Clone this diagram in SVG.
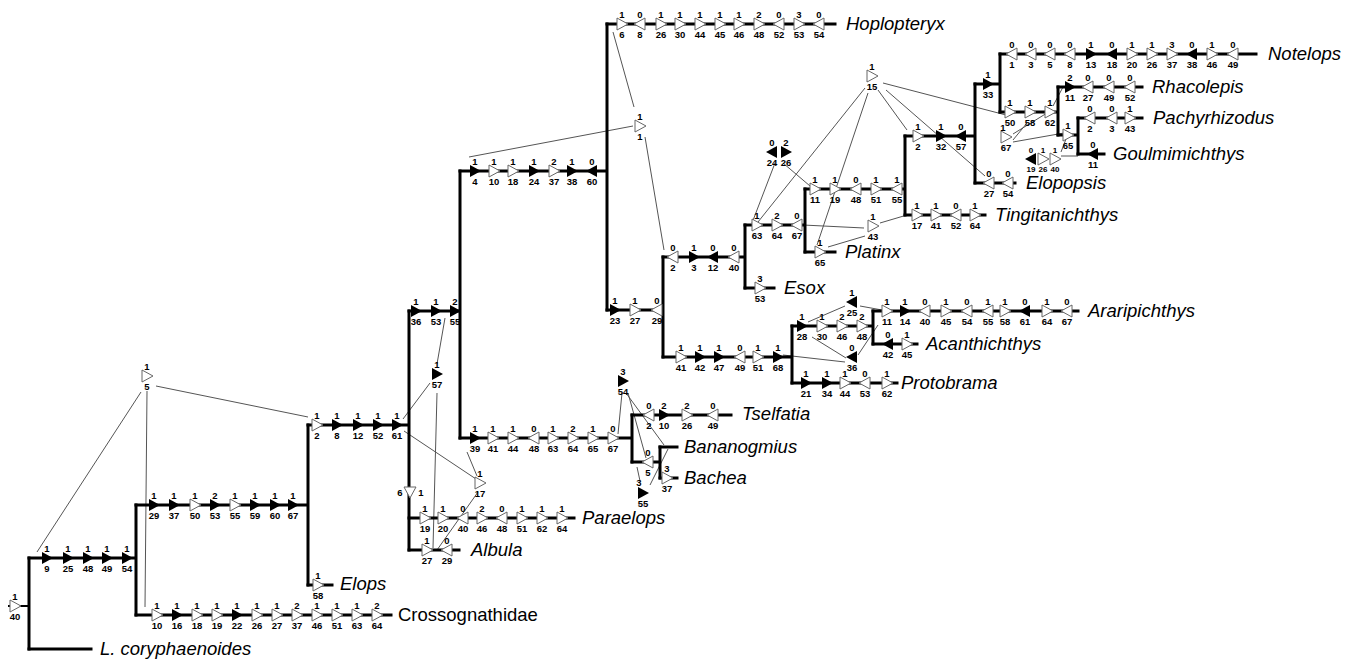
<svg xmlns="http://www.w3.org/2000/svg" xmlns:xlink="http://www.w3.org/1999/xlink" width="1360" height="662" viewBox="0 0 1360 662">
<style>
.br{stroke:#000;stroke-width:3;fill:none;stroke-linecap:square}
.cn line{stroke:#555;stroke-width:1}
.k text{font-family:"Liberation Sans",Arial,sans-serif;font-weight:bold;font-size:9.5px;text-anchor:middle;fill:#000}
.k.sm text{font-size:8px}
.tx{font-family:"Liberation Sans",Arial,sans-serif;font-style:italic;font-size:18.5px;fill:#000}
.up{font-family:"Liberation Sans",Arial,sans-serif;font-size:18.5px;fill:#000}
</style>
<defs>
<path id="rO" d="M-5,-6 L6,0 L-5,6 Z" fill="#fff" stroke="#666" stroke-width="1"/>
<path id="rF" d="M-5,-6 L6,0 L-5,6 Z" fill="#000"/>
<path id="lO" d="M5,-6 L-6,0 L5,6 Z" fill="#fff" stroke="#666" stroke-width="1"/>
<path id="lF" d="M5,-6 L-6,0 L5,6 Z" fill="#000"/>
<path id="dO" d="M-6,-5 L6,-5 L0,6 Z" fill="#fff" stroke="#666" stroke-width="1"/>
</defs>
<rect width="1360" height="662" fill="#fff"/>

<g id="connectors" class="cn">
<line x1="141" y1="392" x2="37" y2="552"/>
<line x1="147" y1="391" x2="145" y2="607"/>
<line x1="156" y1="386" x2="308" y2="417"/>
<line x1="445" y1="318" x2="437" y2="364"/>
<line x1="430" y1="383" x2="403" y2="419"/>
<line x1="437" y1="393" x2="433" y2="548"/>
<line x1="404" y1="431" x2="476" y2="479"/>
<line x1="467" y1="452" x2="477" y2="476"/>
<line x1="478" y1="492" x2="437" y2="550"/>
<line x1="633" y1="126" x2="469" y2="157"/>
<line x1="634" y1="107" x2="613" y2="32"/>
<line x1="645" y1="137" x2="664" y2="250"/>
<line x1="622" y1="393" x2="618" y2="434"/>
<line x1="626" y1="393" x2="664" y2="445"/>
<line x1="628" y1="393" x2="646" y2="458"/>
<line x1="637" y1="467" x2="640" y2="481"/>
<line x1="650" y1="485" x2="668" y2="449"/>
<line x1="775" y1="163" x2="752" y2="223"/>
<line x1="783" y1="163" x2="810" y2="186"/>
<line x1="865" y1="88" x2="758" y2="222"/>
<line x1="868" y1="93" x2="817" y2="245"/>
<line x1="878" y1="90" x2="907" y2="130"/>
<line x1="886" y1="90" x2="985" y2="176"/>
<line x1="883" y1="83" x2="1006" y2="115"/>
<line x1="864" y1="228" x2="803" y2="225"/>
<line x1="865" y1="236" x2="828" y2="247"/>
<line x1="880" y1="223" x2="907" y2="215"/>
<line x1="1013" y1="140" x2="1027" y2="123"/>
<line x1="1013" y1="134" x2="1047" y2="113"/>
<line x1="1013" y1="142" x2="1064" y2="133"/>
<line x1="1053" y1="106" x2="1063" y2="87"/>
<line x1="1061" y1="152" x2="1066" y2="139"/>
<line x1="1061" y1="156" x2="1078" y2="156"/>
<line x1="845" y1="306" x2="808" y2="322"/>
<line x1="860" y1="306" x2="882" y2="310"/>
<line x1="812" y1="337" x2="846" y2="358"/>
<line x1="783" y1="355" x2="845" y2="362"/>
<line x1="858" y1="355" x2="878" y2="325"/>
</g>

<g id="root">
<path class="br" style="stroke-width:2" d="M9,606 H29"/>
<path class="br" d="M29,558 V649"/>
<g class="k" transform="translate(15,606)"><use xlink:href="#rO"/><text y="-6">1</text><text y="14">40</text></g>
</g>

<g id="L-coryphaenoides">
<path class="br" d="M29,649 H91"/>
<text class="tx" x="100" y="655">L. coryphaenoides</text>
</g>

<g id="clade-A">
<path class="br" d="M29,558 H136 M136,505 V615"/>
<g class="k" transform="translate(47,558)"><use xlink:href="#rF"/><text y="-6">1</text><text y="14">9</text></g>
<g class="k" transform="translate(68,558)"><use xlink:href="#rF"/><text y="-6">1</text><text y="14">25</text></g>
<g class="k" transform="translate(88,558)"><use xlink:href="#rF"/><text y="-6">1</text><text y="14">48</text></g>
<g class="k" transform="translate(107,558)"><use xlink:href="#rF"/><text y="-6">1</text><text y="14">49</text></g>
<g class="k" transform="translate(127,558)"><use xlink:href="#rF"/><text y="-6">1</text><text y="14">54</text></g>
<g class="k" transform="translate(147,376)"><use xlink:href="#rO"/><text y="-6">1</text><text y="14">5</text></g>
</g>

<g id="clade-B">
<path class="br" d="M136,505 H308 M308,425 V585"/>
<g class="k" transform="translate(154,505)"><use xlink:href="#rF"/><text y="-6">1</text><text y="14">29</text></g>
<g class="k" transform="translate(174,505)"><use xlink:href="#rF"/><text y="-6">1</text><text y="14">37</text></g>
<g class="k" transform="translate(195,505)"><use xlink:href="#rO"/><text y="-6">1</text><text y="14">50</text></g>
<g class="k" transform="translate(215,505)"><use xlink:href="#rF"/><text y="-6">2</text><text y="14">53</text></g>
<g class="k" transform="translate(235,505)"><use xlink:href="#rO"/><text y="-6">1</text><text y="14">55</text></g>
<g class="k" transform="translate(255,505)"><use xlink:href="#rF"/><text y="-6">1</text><text y="14">59</text></g>
<g class="k" transform="translate(275,505)"><use xlink:href="#rF"/><text y="-6">1</text><text y="14">60</text></g>
<g class="k" transform="translate(293,505)"><use xlink:href="#rF"/><text y="-6">1</text><text y="14">67</text></g>
</g>

<g id="Crossognathidae">
<path class="br" d="M136,615 H391"/>
<g class="k" transform="translate(157,615)"><use xlink:href="#rO"/><text y="-6">1</text><text y="14">10</text></g>
<g class="k" transform="translate(177,615)"><use xlink:href="#rF"/><text y="-6">1</text><text y="14">16</text></g>
<g class="k" transform="translate(197,615)"><use xlink:href="#rO"/><text y="-6">1</text><text y="14">18</text></g>
<g class="k" transform="translate(217,615)"><use xlink:href="#rO"/><text y="-6">1</text><text y="14">19</text></g>
<g class="k" transform="translate(237,615)"><use xlink:href="#rF"/><text y="-6">1</text><text y="14">22</text></g>
<g class="k" transform="translate(257,615)"><use xlink:href="#rO"/><text y="-6">1</text><text y="14">26</text></g>
<g class="k" transform="translate(277,615)"><use xlink:href="#rO"/><text y="-6">1</text><text y="14">27</text></g>
<g class="k" transform="translate(297,615)"><use xlink:href="#rO"/><text y="-6">2</text><text y="14">37</text></g>
<g class="k" transform="translate(317,615)"><use xlink:href="#rO"/><text y="-6">1</text><text y="14">46</text></g>
<g class="k" transform="translate(337,615)"><use xlink:href="#rO"/><text y="-6">1</text><text y="14">51</text></g>
<g class="k" transform="translate(357,615)"><use xlink:href="#rO"/><text y="-6">1</text><text y="14">63</text></g>
<g class="k" transform="translate(377,615)"><use xlink:href="#rO"/><text y="-6">2</text><text y="14">64</text></g>
<text class="up" x="398" y="621">Crossognathidae</text>
</g>

<g id="Elops">
<path class="br" d="M308,585 H332"/>
<g class="k" transform="translate(318,585)"><use xlink:href="#rO"/><text y="-6">1</text><text y="14">58</text></g>
<text class="tx" x="340" y="590">Elops</text>
</g>

<g id="clade-C">
<path class="br" d="M308,425 H409 M409,311 V550"/>
<g class="k" transform="translate(317,425)"><use xlink:href="#rO"/><text y="-6">1</text><text y="14">2</text></g>
<g class="k" transform="translate(337,425)"><use xlink:href="#rF"/><text y="-6">1</text><text y="14">8</text></g>
<g class="k" transform="translate(358,425)"><use xlink:href="#rF"/><text y="-6">1</text><text y="14">12</text></g>
<g class="k" transform="translate(378,425)"><use xlink:href="#rF"/><text y="-6">1</text><text y="14">52</text></g>
<g class="k" transform="translate(397,425)"><use xlink:href="#rF"/><text y="-6">1</text><text y="14">61</text></g>
<g class="k" transform="translate(410,492)"><use xlink:href="#dO"/><text x="-10" y="3.5">6</text><text x="11" y="3.5">1</text></g>
<g class="k" transform="translate(437,374)"><use xlink:href="#rF"/><text y="-6">1</text><text y="14">57</text></g>
<g class="k" transform="translate(480,483)"><use xlink:href="#rO"/><text y="-6">1</text><text y="14">17</text></g>
</g>

<g id="Paraelops">
<path class="br" d="M409,518 H574"/>
<g class="k" transform="translate(425,518)"><use xlink:href="#rO"/><text y="-6">1</text><text y="14">19</text></g>
<g class="k" transform="translate(443,518)"><use xlink:href="#rO"/><text y="-6">1</text><text y="14">20</text></g>
<g class="k" transform="translate(463,518)"><use xlink:href="#lO"/><text y="-6">0</text><text y="14">40</text></g>
<g class="k" transform="translate(482,518)"><use xlink:href="#rO"/><text y="-6">2</text><text y="14">46</text></g>
<g class="k" transform="translate(502,518)"><use xlink:href="#lO"/><text y="-6">0</text><text y="14">48</text></g>
<g class="k" transform="translate(522,518)"><use xlink:href="#rO"/><text y="-6">1</text><text y="14">51</text></g>
<g class="k" transform="translate(542,518)"><use xlink:href="#rO"/><text y="-6">1</text><text y="14">62</text></g>
<g class="k" transform="translate(562,518)"><use xlink:href="#rO"/><text y="-6">1</text><text y="14">64</text></g>
<text class="tx" x="582" y="524">Paraelops</text>
</g>

<g id="Albula">
<path class="br" d="M409,550 H459"/>
<g class="k" transform="translate(427,550)"><use xlink:href="#rO"/><text y="-6">1</text><text y="14">27</text></g>
<g class="k" transform="translate(447,550)"><use xlink:href="#lO"/><text y="-6">0</text><text y="14">29</text></g>
<text class="tx" x="471" y="556">Albula</text>
</g>

<g id="clade-D">
<path class="br" d="M409,311 H460 M460,171 V438"/>
<g class="k" transform="translate(416,311)"><use xlink:href="#rF"/><text y="-6">1</text><text y="14">36</text></g>
<g class="k" transform="translate(436,311)"><use xlink:href="#rF"/><text y="-6">1</text><text y="14">53</text></g>
<g class="k" transform="translate(455,311)"><use xlink:href="#rF"/><text y="-6">2</text><text y="14">55</text></g>
</g>

<g id="clade-E">
<path class="br" d="M460,171 H607 M607,24 V310"/>
<g class="k" transform="translate(475,171)"><use xlink:href="#rF"/><text y="-6">1</text><text y="14">4</text></g>
<g class="k" transform="translate(494,171)"><use xlink:href="#rO"/><text y="-6">1</text><text y="14">10</text></g>
<g class="k" transform="translate(513,171)"><use xlink:href="#rO"/><text y="-6">1</text><text y="14">18</text></g>
<g class="k" transform="translate(534,171)"><use xlink:href="#rF"/><text y="-6">1</text><text y="14">24</text></g>
<g class="k" transform="translate(554,171)"><use xlink:href="#rO"/><text y="-6">2</text><text y="14">37</text></g>
<g class="k" transform="translate(572,171)"><use xlink:href="#rF"/><text y="-6">1</text><text y="14">38</text></g>
<g class="k" transform="translate(592,171)"><use xlink:href="#lF"/><text y="-6">0</text><text y="14">60</text></g>
<g class="k" transform="translate(640,126)"><use xlink:href="#rO"/><text y="-6">1</text><text y="14">1</text></g>
</g>

<g id="Hoplopteryx">
<path class="br" d="M607,24 H835"/>
<g class="k" transform="translate(622,24)"><use xlink:href="#rO"/><text y="-6">1</text><text y="14">6</text></g>
<g class="k" transform="translate(640,24)"><use xlink:href="#lO"/><text y="-6">0</text><text y="14">8</text></g>
<g class="k" transform="translate(661,24)"><use xlink:href="#rO"/><text y="-6">1</text><text y="14">26</text></g>
<g class="k" transform="translate(680,24)"><use xlink:href="#rO"/><text y="-6">1</text><text y="14">30</text></g>
<g class="k" transform="translate(700,24)"><use xlink:href="#rO"/><text y="-6">1</text><text y="14">44</text></g>
<g class="k" transform="translate(720,24)"><use xlink:href="#rO"/><text y="-6">1</text><text y="14">45</text></g>
<g class="k" transform="translate(739,24)"><use xlink:href="#rO"/><text y="-6">1</text><text y="14">46</text></g>
<g class="k" transform="translate(759,24)"><use xlink:href="#rO"/><text y="-6">2</text><text y="14">48</text></g>
<g class="k" transform="translate(779,24)"><use xlink:href="#lO"/><text y="-6">0</text><text y="14">52</text></g>
<g class="k" transform="translate(799,24)"><use xlink:href="#rO"/><text y="-6">3</text><text y="14">53</text></g>
<g class="k" transform="translate(819,24)"><use xlink:href="#lO"/><text y="-6">0</text><text y="14">54</text></g>
<text class="tx" x="846" y="30">Hoplopteryx</text>
</g>

<g id="clade-F">
<path class="br" d="M460,438 H632 M632,415 V462"/>
<g class="k" transform="translate(475,438)"><use xlink:href="#rF"/><text y="-6">1</text><text y="14">39</text></g>
<g class="k" transform="translate(493,438)"><use xlink:href="#rO"/><text y="-6">1</text><text y="14">41</text></g>
<g class="k" transform="translate(513,438)"><use xlink:href="#rO"/><text y="-6">1</text><text y="14">44</text></g>
<g class="k" transform="translate(534,438)"><use xlink:href="#lO"/><text y="-6">0</text><text y="14">48</text></g>
<g class="k" transform="translate(553,438)"><use xlink:href="#rO"/><text y="-6">1</text><text y="14">63</text></g>
<g class="k" transform="translate(573,438)"><use xlink:href="#rO"/><text y="-6">2</text><text y="14">64</text></g>
<g class="k" transform="translate(593,438)"><use xlink:href="#rO"/><text y="-6">1</text><text y="14">65</text></g>
<g class="k" transform="translate(613,438)"><use xlink:href="#rO"/><text y="-6">0</text><text y="14">67</text></g>
<g class="k" transform="translate(623,381)"><use xlink:href="#rF"/><text y="-6">3</text><text y="14">54</text></g>
</g>

<g id="Tselfatia">
<path class="br" d="M632,415 H731"/>
<g class="k" transform="translate(649,415)"><use xlink:href="#lO"/><text y="-6">0</text><text y="14">2</text></g>
<g class="k" transform="translate(664,415)"><use xlink:href="#rF"/><text y="-6">2</text><text y="14">10</text></g>
<g class="k" transform="translate(687,415)"><use xlink:href="#rO"/><text y="-6">2</text><text y="14">26</text></g>
<g class="k" transform="translate(713,415)"><use xlink:href="#lO"/><text y="-6">0</text><text y="14">49</text></g>
<text class="tx" x="742" y="420">Tselfatia</text>
</g>

<g id="clade-Q">
<path class="br" d="M632,462 H660 M660,447 V478"/>
<g class="k" transform="translate(648,462)"><use xlink:href="#lO"/><text y="-6">0</text><text y="14">5</text></g>
<g class="k" transform="translate(643,493)"><use xlink:href="#rF"/><text x="-4" y="-7">3</text><text y="14">55</text></g>
</g>

<g id="Bananogmius">
<path class="br" d="M660,447 H677"/>
<text class="tx" x="684" y="453">Bananogmius</text>
</g>

<g id="Bachea">
<path class="br" d="M660,478 H677"/>
<g class="k" transform="translate(667,478)"><use xlink:href="#rO"/><text y="-6">3</text><text y="14">37</text></g>
<text class="tx" x="684" y="484">Bachea</text>
</g>

<g id="clade-G">
<path class="br" d="M607,310 H663 M663,257 V357"/>
<g class="k" transform="translate(615,310)"><use xlink:href="#rF"/><text y="-6">1</text><text y="14">23</text></g>
<g class="k" transform="translate(635,310)"><use xlink:href="#rO"/><text y="-6">1</text><text y="14">27</text></g>
<g class="k" transform="translate(657,310)"><use xlink:href="#lO"/><text y="-6">0</text><text y="14">29</text></g>
</g>

<g id="clade-H">
<path class="br" d="M663,257 H745 M745,225 V288"/>
<g class="k" transform="translate(673,257)"><use xlink:href="#lO"/><text y="-6">0</text><text y="14">2</text></g>
<g class="k" transform="translate(694,257)"><use xlink:href="#rF"/><text y="-6">1</text><text y="14">3</text></g>
<g class="k" transform="translate(713,257)"><use xlink:href="#lF"/><text y="-6">0</text><text y="14">12</text></g>
<g class="k" transform="translate(734,257)"><use xlink:href="#lO"/><text y="-6">0</text><text y="14">40</text></g>
</g>

<g id="Esox">
<path class="br" d="M745,288 H774"/>
<g class="k" transform="translate(760,288)"><use xlink:href="#rO"/><text y="-6">3</text><text y="14">53</text></g>
<text class="tx" x="784" y="294">Esox</text>
</g>

<g id="clade-J">
<path class="br" d="M745,225 H805 M805,189 V252"/>
<g class="k" transform="translate(757,225)"><use xlink:href="#rO"/><text y="-6">1</text><text y="14">63</text></g>
<g class="k" transform="translate(777,225)"><use xlink:href="#rO"/><text y="-6">2</text><text y="14">64</text></g>
<g class="k" transform="translate(797,225)"><use xlink:href="#lO"/><text y="-6">0</text><text y="14">67</text></g>
<g class="k" transform="translate(772,152)"><use xlink:href="#lF"/><text y="-6">0</text><text y="14">24</text></g>
<g class="k" transform="translate(786,152)"><use xlink:href="#rF"/><text y="-6">2</text><text y="14">26</text></g>
<g class="k" transform="translate(873,226)"><use xlink:href="#rO"/><text y="-6">1</text><text y="14">43</text></g>
</g>

<g id="Platinx">
<path class="br" d="M805,252 H835"/>
<g class="k" transform="translate(820,252)"><use xlink:href="#rO"/><text y="-6">1</text><text y="14">65</text></g>
<text class="tx" x="845" y="258">Platinx</text>
</g>

<g id="clade-K">
<path class="br" d="M805,189 H905 M905,136 V215"/>
<g class="k" transform="translate(815,189)"><use xlink:href="#rO"/><text y="-6">1</text><text y="14">11</text></g>
<g class="k" transform="translate(835,189)"><use xlink:href="#rO"/><text y="-6">1</text><text y="14">19</text></g>
<g class="k" transform="translate(856,189)"><use xlink:href="#lO"/><text y="-6">0</text><text y="14">48</text></g>
<g class="k" transform="translate(876,189)"><use xlink:href="#rO"/><text y="-6">1</text><text y="14">51</text></g>
<g class="k" transform="translate(897,189)"><use xlink:href="#lO"/><text y="-6">1</text><text y="14">55</text></g>
<g class="k" transform="translate(872,76)"><use xlink:href="#rO"/><text y="-6">1</text><text y="14">15</text></g>
</g>

<g id="Tingitanichthys">
<path class="br" d="M905,215 H985"/>
<g class="k" transform="translate(917,215)"><use xlink:href="#rO"/><text y="-6">1</text><text y="14">17</text></g>
<g class="k" transform="translate(936,215)"><use xlink:href="#rO"/><text y="-6">1</text><text y="14">41</text></g>
<g class="k" transform="translate(956,215)"><use xlink:href="#lO"/><text y="-6">0</text><text y="14">52</text></g>
<g class="k" transform="translate(975,215)"><use xlink:href="#rO"/><text y="-6">1</text><text y="14">64</text></g>
<text class="tx" x="995" y="221">Tingitanichthys</text>
</g>

<g id="clade-L">
<path class="br" d="M905,136 H975 M975,84 V183"/>
<g class="k" transform="translate(918,136)"><use xlink:href="#rO"/><text y="-6">1</text><text y="14">2</text></g>
<g class="k" transform="translate(941,136)"><use xlink:href="#rF"/><text y="-6">1</text><text y="14">32</text></g>
<g class="k" transform="translate(961,136)"><use xlink:href="#lF"/><text y="-6">0</text><text y="14">57</text></g>
</g>

<g id="Elopopsis">
<path class="br" d="M975,183 H1015"/>
<g class="k" transform="translate(989,183)"><use xlink:href="#lO"/><text y="-6">0</text><text y="14">27</text></g>
<g class="k" transform="translate(1008,183)"><use xlink:href="#lO"/><text y="-6">0</text><text y="14">54</text></g>
<text class="tx" x="1026" y="189">Elopopsis</text>
</g>

<g id="clade-M">
<path class="br" d="M975,84 H1000 M1000,54 V112"/>
<g class="k" transform="translate(988,84)"><use xlink:href="#rF"/><text y="-6">1</text><text y="14">33</text></g>
</g>

<g id="Notelops">
<path class="br" d="M1000,54 H1256"/>
<g class="k" transform="translate(1012,54)"><use xlink:href="#lO"/><text y="-6">0</text><text y="14">1</text></g>
<g class="k" transform="translate(1031,54)"><use xlink:href="#lO"/><text y="-6">0</text><text y="14">3</text></g>
<g class="k" transform="translate(1050,54)"><use xlink:href="#lO"/><text y="-6">0</text><text y="14">5</text></g>
<g class="k" transform="translate(1070,54)"><use xlink:href="#lO"/><text y="-6">0</text><text y="14">8</text></g>
<g class="k" transform="translate(1091,54)"><use xlink:href="#rF"/><text y="-6">1</text><text y="14">13</text></g>
<g class="k" transform="translate(1112,54)"><use xlink:href="#lF"/><text y="-6">0</text><text y="14">18</text></g>
<g class="k" transform="translate(1132,54)"><use xlink:href="#rO"/><text y="-6">1</text><text y="14">20</text></g>
<g class="k" transform="translate(1152,54)"><use xlink:href="#rO"/><text y="-6">1</text><text y="14">26</text></g>
<g class="k" transform="translate(1172,54)"><use xlink:href="#rO"/><text y="-6">3</text><text y="14">37</text></g>
<g class="k" transform="translate(1192,54)"><use xlink:href="#lF"/><text y="-6">0</text><text y="14">38</text></g>
<g class="k" transform="translate(1212,54)"><use xlink:href="#rO"/><text y="-6">1</text><text y="14">46</text></g>
<g class="k" transform="translate(1233,54)"><use xlink:href="#lO"/><text y="-6">0</text><text y="14">49</text></g>
<text class="tx" x="1268" y="60">Notelops</text>
</g>

<g id="clade-N">
<path class="br" d="M1000,112 H1058 M1058,87 V135"/>
<g class="k" transform="translate(1010,112)"><use xlink:href="#rO"/><text y="-6">1</text><text y="14">50</text></g>
<g class="k" transform="translate(1030,112)"><use xlink:href="#rO"/><text y="-6">1</text><text y="14">58</text></g>
<g class="k" transform="translate(1050,112)"><use xlink:href="#rO"/><text y="-6">1</text><text y="14">62</text></g>
<g class="k" transform="translate(1006,137)"><use xlink:href="#rO"/><text x="-3" y="-6">1</text><text y="14">67</text></g>
</g>

<g id="Rhacolepis">
<path class="br" d="M1058,87 H1142"/>
<g class="k" transform="translate(1070,87)"><use xlink:href="#rF"/><text y="-6">2</text><text y="14">11</text></g>
<g class="k" transform="translate(1088,87)"><use xlink:href="#lO"/><text y="-6">0</text><text y="14">27</text></g>
<g class="k" transform="translate(1109,87)"><use xlink:href="#lO"/><text y="-6">0</text><text y="14">49</text></g>
<g class="k" transform="translate(1130,87)"><use xlink:href="#lO"/><text y="-6">0</text><text y="14">52</text></g>
<text class="tx" x="1152" y="93">Rhacolepis</text>
</g>

<g id="clade-O">
<path class="br" d="M1058,135 H1078 M1078,118 V154"/>
<g class="k" transform="translate(1068,135)"><use xlink:href="#rO"/><text y="-6">1</text><text y="14">65</text></g>
<g class="k sm" transform="translate(1031,159)"><use xlink:href="#lF"/><text y="-6">0</text><text y="13">19</text></g>
<g class="k sm" transform="translate(1043,159)"><use xlink:href="#rO"/><text y="-6">1</text><text y="13">26</text></g>
<g class="k sm" transform="translate(1055,159)"><use xlink:href="#rO"/><text y="-6">1</text><text y="13">40</text></g>
</g>

<g id="Pachyrhizodus">
<path class="br" d="M1078,118 H1142"/>
<g class="k" transform="translate(1090,118)"><use xlink:href="#lO"/><text y="-6">0</text><text y="14">2</text></g>
<g class="k" transform="translate(1112,118)"><use xlink:href="#lO"/><text y="-6">0</text><text y="14">3</text></g>
<g class="k" transform="translate(1130,118)"><use xlink:href="#rO"/><text y="-6">1</text><text y="14">43</text></g>
<text class="tx" x="1153" y="124">Pachyrhizodus</text>
</g>

<g id="Goulmimichthys">
<path class="br" d="M1078,154 H1104"/>
<g class="k" transform="translate(1093,154)"><use xlink:href="#lF"/><text y="-6">0</text><text y="14">11</text></g>
<text class="tx" x="1113" y="160">Goulmimichthys</text>
</g>

<g id="clade-I">
<path class="br" d="M663,357 H792 M792,326 V383"/>
<g class="k" transform="translate(681,357)"><use xlink:href="#rO"/><text y="-6">1</text><text y="14">41</text></g>
<g class="k" transform="translate(700,357)"><use xlink:href="#rF"/><text y="-6">1</text><text y="14">42</text></g>
<g class="k" transform="translate(719,357)"><use xlink:href="#rF"/><text y="-6">1</text><text y="14">47</text></g>
<g class="k" transform="translate(740,357)"><use xlink:href="#lO"/><text y="-6">0</text><text y="14">49</text></g>
<g class="k" transform="translate(758,357)"><use xlink:href="#rO"/><text y="-6">1</text><text y="14">51</text></g>
<g class="k" transform="translate(778,357)"><use xlink:href="#rF"/><text y="-6">1</text><text y="14">68</text></g>
</g>

<g id="clade-P">
<path class="br" d="M792,326 H873 M873,311 V344"/>
<g class="k" transform="translate(802,326)"><use xlink:href="#rF"/><text y="-6">1</text><text y="14">28</text></g>
<g class="k" transform="translate(822,326)"><use xlink:href="#rO"/><text y="-6">1</text><text y="14">30</text></g>
<g class="k" transform="translate(842,326)"><use xlink:href="#rO"/><text y="-6">2</text><text y="14">46</text></g>
<g class="k" transform="translate(862,326)"><use xlink:href="#rO"/><text y="-6">2</text><text y="14">48</text></g>
<g class="k" transform="translate(852,302)"><use xlink:href="#lF"/><text y="-6">1</text><text y="14">25</text></g>
<g class="k" transform="translate(852,357)"><use xlink:href="#lF"/><text y="-6">0</text><text y="14">36</text></g>
</g>

<g id="Araripichthys">
<path class="br" d="M873,311 H1078"/>
<g class="k" transform="translate(887,311)"><use xlink:href="#rO"/><text y="-6">1</text><text y="14">11</text></g>
<g class="k" transform="translate(905,311)"><use xlink:href="#rF"/><text y="-6">1</text><text y="14">14</text></g>
<g class="k" transform="translate(925,311)"><use xlink:href="#lO"/><text y="-6">0</text><text y="14">40</text></g>
<g class="k" transform="translate(946,311)"><use xlink:href="#rO"/><text y="-6">1</text><text y="14">45</text></g>
<g class="k" transform="translate(967,311)"><use xlink:href="#lO"/><text y="-6">0</text><text y="14">54</text></g>
<g class="k" transform="translate(988,311)"><use xlink:href="#lO"/><text y="-6">1</text><text y="14">55</text></g>
<g class="k" transform="translate(1005,311)"><use xlink:href="#rO"/><text y="-6">1</text><text y="14">58</text></g>
<g class="k" transform="translate(1025,311)"><use xlink:href="#lF"/><text y="-6">0</text><text y="14">61</text></g>
<g class="k" transform="translate(1047,311)"><use xlink:href="#rO"/><text y="-6">1</text><text y="14">64</text></g>
<g class="k" transform="translate(1067,311)"><use xlink:href="#lO"/><text y="-6">0</text><text y="14">67</text></g>
<text class="tx" x="1088" y="317">Araripichthys</text>
</g>

<g id="Acanthichthys">
<path class="br" d="M873,344 H917"/>
<g class="k" transform="translate(888,344)"><use xlink:href="#lF"/><text y="-6">0</text><text y="14">42</text></g>
<g class="k" transform="translate(907,344)"><use xlink:href="#rO"/><text y="-6">1</text><text y="14">45</text></g>
<text class="tx" x="926" y="350">Acanthichthys</text>
</g>

<g id="Protobrama">
<path class="br" d="M792,383 H897"/>
<g class="k" transform="translate(806,383)"><use xlink:href="#rF"/><text y="-6">1</text><text y="14">21</text></g>
<g class="k" transform="translate(827,383)"><use xlink:href="#rF"/><text y="-6">1</text><text y="14">34</text></g>
<g class="k" transform="translate(845,383)"><use xlink:href="#rO"/><text y="-6">1</text><text y="14">44</text></g>
<g class="k" transform="translate(865,383)"><use xlink:href="#lO"/><text y="-6">0</text><text y="14">53</text></g>
<g class="k" transform="translate(887,383)"><use xlink:href="#rO"/><text y="-6">1</text><text y="14">62</text></g>
<text class="tx" x="901" y="389">Protobrama</text>
</g>
</svg>
